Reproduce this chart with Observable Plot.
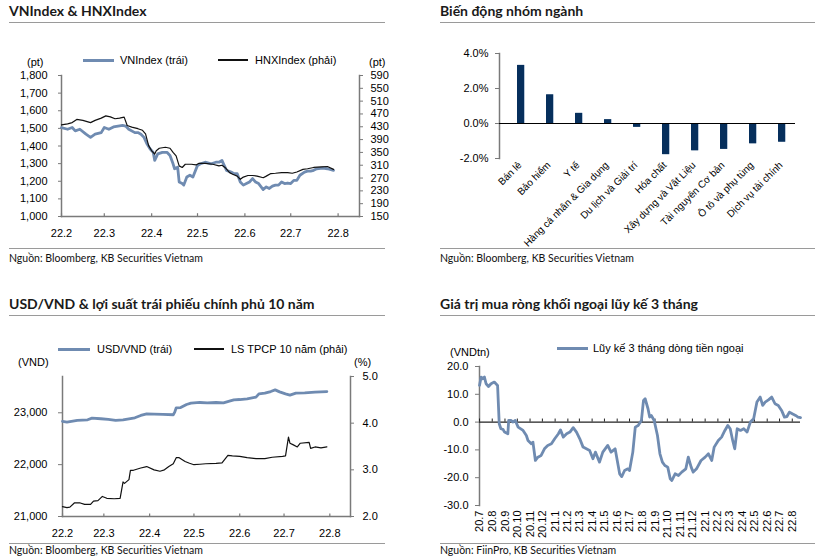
<!DOCTYPE html>
<html><head><meta charset="utf-8">
<script src="https://cdn.jsdelivr.net/npm/d3@7"></script>
<script src="https://cdn.jsdelivr.net/npm/@observablehq/plot@0.6"></script>
<style>
body{margin:0;background:#fff;}
#page{position:relative;width:825px;height:559px;overflow:hidden;font-family:"Liberation Sans",Arial,sans-serif;color:#000;background:#fff;}
.abs{position:absolute;}
.title{font-family:Lato,"Liberation Sans",sans-serif;font-weight:bold;font-size:14px;color:#1a1a1a;white-space:nowrap;line-height:1;}
.rule{height:0;border-top:1px solid #9a9a9a;}
.src{font-family:Lato,"Liberation Sans",sans-serif;font-size:10.5px;line-height:1;white-space:nowrap;color:#111;}
.lab{font-size:11px;line-height:1;white-space:nowrap;}
</style></head><body><div id="page"></div>
<script>
// ---------------- DATA ----------------
// Panel 1: VNIndex (left) & HNXIndex (right)
const vnDates = ["2022-02-01","2022-02-05","2022-02-08","2022-02-10","2022-02-13","2022-02-17","2022-02-20","2022-02-23","2022-02-27","2022-03-01","2022-03-04","2022-03-07","2022-03-10","2022-03-13","2022-03-15","2022-03-17","2022-03-21","2022-03-23","2022-03-25","2022-03-27","2022-03-29","2022-03-31","2022-04-02","2022-04-03","2022-04-05","2022-04-08","2022-04-11","2022-04-13","2022-04-15","2022-04-16","2022-04-18","2022-04-19","2022-04-21","2022-04-22","2022-04-24","2022-04-26","2022-04-28","2022-05-01","2022-05-03","2022-05-06","2022-05-10","2022-05-13","2022-05-15","2022-05-17","2022-05-18","2022-05-20","2022-05-23","2022-05-25","2022-05-27","2022-05-29","2022-05-31","2022-06-02","2022-06-04","2022-06-06","2022-06-08","2022-06-10","2022-06-13","2022-06-15","2022-06-17","2022-06-19","2022-06-21","2022-06-23","2022-06-25","2022-06-27","2022-06-29","2022-07-01","2022-07-03","2022-07-05","2022-07-07","2022-07-10","2022-07-12","2022-07-14","2022-07-16","2022-07-18","2022-07-22","2022-07-25","2022-07-29"];
const vnValues = [1504,1495,1505,1486,1495,1467,1449,1467,1476,1505,1495,1508,1513,1517,1513,1495,1476,1476,1467,1449,1411,1383,1364,1318,1355,1364,1364,1346,1299,1271,1280,1196,1187,1178,1224,1234,1224,1290,1299,1308,1299,1308,1308,1318,1299,1262,1252,1243,1243,1196,1178,1187,1196,1215,1196,1187,1153,1168,1159,1172,1178,1178,1196,1187,1190,1187,1205,1205,1234,1252,1257,1257,1262,1271,1274,1271,1262];
const hnxDates = ["2022-02-01","2022-02-05","2022-02-08","2022-02-11","2022-02-15","2022-02-20","2022-02-23","2022-02-27","2022-03-02","2022-03-05","2022-03-08","2022-03-11","2022-03-14","2022-03-16","2022-03-19","2022-03-23","2022-03-26","2022-03-28","2022-03-30","2022-04-01","2022-04-03","2022-04-04","2022-04-06","2022-04-10","2022-04-13","2022-04-15","2022-04-17","2022-04-19","2022-04-21","2022-04-23","2022-04-27","2022-04-30","2022-05-02","2022-05-06","2022-05-11","2022-05-15","2022-05-17","2022-05-19","2022-05-22","2022-05-24","2022-05-27","2022-05-29","2022-05-31","2022-06-03","2022-06-06","2022-06-09","2022-06-13","2022-06-15","2022-06-18","2022-06-21","2022-06-25","2022-06-29","2022-07-02","2022-07-05","2022-07-09","2022-07-12","2022-07-16","2022-07-21","2022-07-25","2022-07-29"];
const hnxValues = [436,439,443,453,450,443,450,457,464,461,455,457,460,434,429,424,419,408,371,355,345,355,363,366,363,350,339,308,303,313,313,311,316,316,313,308,310,303,287,282,276,266,273,278,278,276,271,276,284,285,287,287,285,289,297,299,303,305,306,297];
const p1XLabels = ["22.2","22.3","22.4","22.5","22.6","22.7","22.8"];
const vnTicks = [1000,1100,1200,1300,1400,1500,1600,1700,1800];
const hnxTicks = [150,190,230,270,310,350,390,430,470,510,550,590];

// Panel 2: sector changes
const sectors = ["Bán lẻ","Bảo hiểm","Y tế","Hàng cá nhân & Gia dụng","Du lịch và Giải trí","Hóa chất","Xây dựng và Vật Liệu","Tài nguyên Cơ bản","Ô tô và phụ tùng","Dịch vụ tài chính"];
const sectorChange = [3.32,1.64,0.58,0.22,-0.22,-1.78,-1.56,-1.48,-1.16,-1.07];
const sectorTicks = [-2,0,2,4];

// Panel 3: USD/VND (left) & 10Y gov bond yield (right)
const usdDates = ["2022-02-01","2022-02-04","2022-02-11","2022-02-18","2022-02-21","2022-02-27","2022-03-04","2022-03-09","2022-03-14","2022-03-18","2022-03-22","2022-03-26","2022-03-30","2022-04-04","2022-04-10","2022-04-17","2022-04-18","2022-04-19","2022-04-22","2022-04-26","2022-04-29","2022-05-05","2022-05-10","2022-05-16","2022-05-21","2022-05-25","2022-05-28","2022-06-01","2022-06-06","2022-06-12","2022-06-14","2022-06-18","2022-06-22","2022-06-25","2022-06-28","2022-07-02","2022-07-05","2022-07-09","2022-07-15","2022-07-22","2022-07-30"];
const usdValues = [22833,22820,22853,22865,22897,22885,22872,22853,22865,22885,22904,22949,22981,22975,22970,22962,23013,23096,23100,23160,23186,23199,23192,23199,23192,23224,23250,23256,23269,23301,23365,23378,23410,23442,23404,23365,23340,23378,23384,23397,23410];
const lsDates = ["2022-02-01","2022-02-04","2022-02-06","2022-02-09","2022-02-13","2022-02-16","2022-02-20","2022-02-22","2022-02-25","2022-02-28","2022-03-03","2022-03-08","2022-03-12","2022-03-14","2022-03-15","2022-03-18","2022-03-19","2022-03-21","2022-03-26","2022-03-30","2022-04-04","2022-04-08","2022-04-11","2022-04-14","2022-04-17","2022-04-19","2022-04-21","2022-04-25","2022-04-28","2022-05-01","2022-05-05","2022-05-09","2022-05-16","2022-05-20","2022-05-24","2022-05-27","2022-06-01","2022-06-06","2022-06-12","2022-06-18","2022-06-23","2022-06-30","2022-07-02","2022-07-04","2022-07-05","2022-07-07","2022-07-10","2022-07-12","2022-07-18","2022-07-19","2022-07-22","2022-07-26","2022-07-30"];
const lsValues = [2.21,2.19,2.2,2.29,2.29,2.26,2.26,2.33,2.34,2.43,2.39,2.38,2.39,2.74,2.71,2.79,2.99,2.99,3.04,3.07,3.0,2.97,3.0,3.07,3.13,3.26,3.26,3.18,3.14,3.11,3.12,3.13,3.14,3.15,3.31,3.3,3.29,3.26,3.24,3.24,3.27,3.29,3.3,3.7,3.57,3.54,3.49,3.57,3.59,3.46,3.49,3.47,3.49];
const p3XLabels = ["22.2","22.3","22.4","22.5","22.6","22.7","22.8"];
const usdTicks = [21000,22000,23000];
const lsTicks = [2,3,4,5];

// Panel 4: 3-month cumulative foreign net buying
const flowDates = ["2020-07-01","2020-07-05","2020-07-09","2020-07-13","2020-07-17","2020-07-23","2020-07-29","2020-08-06","2020-08-10","2020-08-14","2020-08-18","2020-08-22","2020-08-27","2020-08-31","2020-09-08","2020-09-10","2020-09-16","2020-09-20","2020-09-26","2020-10-03","2020-10-15","2020-10-23","2020-10-27","2020-11-04","2020-11-08","2020-11-14","2020-11-20","2020-11-28","2020-12-06","2020-12-14","2020-12-23","2020-12-31","2021-01-09","2021-01-14","2021-01-21","2021-01-29","2021-02-06","2021-02-14","2021-02-22","2021-03-02","2021-03-10","2021-03-18","2021-03-26","2021-04-03","2021-04-09","2021-04-19","2021-04-27","2021-05-09","2021-05-17","2021-05-27","2021-06-07","2021-06-12","2021-06-19","2021-06-27","2021-07-01","2021-07-09","2021-07-15","2021-07-22","2021-07-30","2021-08-04","2021-08-08","2021-08-15","2021-08-19","2021-08-23","2021-08-30","2021-09-07","2021-09-13","2021-09-19","2021-09-25","2021-10-02","2021-10-08","2021-10-12","2021-10-20","2021-10-28","2021-11-05","2021-11-15","2021-11-21","2021-11-28","2021-12-03","2021-12-11","2021-12-22","2022-01-01","2022-01-09","2022-01-17","2022-01-23","2022-02-02","2022-02-10","2022-02-18","2022-02-25","2022-03-03","2022-03-09","2022-03-14","2022-03-20","2022-03-28","2022-04-05","2022-04-13","2022-04-21","2022-04-29","2022-05-07","2022-05-15","2022-05-21","2022-05-27","2022-06-04","2022-06-12","2022-06-20","2022-06-28","2022-07-06","2022-07-13","2022-07-19","2022-07-25","2022-08-01","2022-08-09","2022-08-15","2022-08-21"];
const flowValues = [13.2,16.2,15.6,16.2,13.8,12.8,13.8,14.4,13.8,13.2,-0.6,-2.4,-2.6,-3.6,-4.2,0.6,0.6,0,0.6,-1.8,-3,-4.8,-6.6,-7.8,-7.2,-13.8,-12.6,-12,-9.6,-8.4,-7.8,-6,-4.2,-2.8,-5.4,-4.2,-3.6,-2,-3.6,-6,-9,-9.6,-10.2,-13.2,-10.8,-14.4,-10.8,-8.4,-10.8,-9.6,-18.6,-19.6,-17.4,-16.8,-17.4,-10.8,-1.8,-1.2,0.6,7.8,8.4,4.8,1.8,2.4,0.6,-4.8,-11.4,-14.4,-15.6,-16.2,-20.4,-21,-18.6,-19.2,-18,-16.8,-12.6,-16.2,-18,-16.8,-13.8,-12.6,-11.4,-13.8,-9,-6.6,-5.4,-3,-1.2,-2.4,-6.6,-9.6,-2.4,-3,-2.4,-3.6,0,1.2,7.2,9,6,7.2,8,9,6.6,6,4.2,1.8,2,3.6,3,2.4,1.8,1.6];
const p4XLabels = ["20.7","20.8","20.9","20.10","20.11","20.12","21.1","21.2","21.3","21.4","21.5","21.6","21.7","21.8","21.9","21.10","21.11","21.12","22.1","22.2","22.3","22.4","22.5","22.6","22.7","22.8"];
const flowTicks = [-30,-20,-10,0,10,20];

// ---------------- HELPERS ----------------
const parse = d3.utcParse("%Y-%m-%d");
const labelDate = s => { const [y, m] = s.split(".").map(Number); return new Date(Date.UTC(2000 + y, m - 1, 1)); };
const zip = (ds, vs) => ds.map((d, i) => ({date: parse(d), value: vs[i]}));
const BLUE = "#6f8bb1", AXIS = "#7a7a7a", NAVY = "#062f5c";
const FONT = "'Liberation Sans', Arial, sans-serif";
const baseStyle = {fontFamily: FONT, fontSize: "11px", background: "transparent", overflow: "visible", color: "#000"};
const page = document.getElementById("page");

function box(left, top, w, h) {
  const d = document.createElement("div");
  d.className = "abs";
  Object.assign(d.style, {left: left + "px", top: top + "px", width: w + "px", height: h + "px", overflow: "visible"});
  page.appendChild(d);
  return d;
}
function put(container, svg) { svg.style.position = "absolute"; svg.style.left = "0"; svg.style.top = "0"; container.appendChild(svg); }
function text(cls, left, top, s) {
  const d = document.createElement("div");
  d.className = "abs " + cls;
  d.style.left = left + "px"; d.style.top = top + "px";
  d.textContent = s;
  page.appendChild(d);
  return d;
}
function rule(x1, x2, y) { const d = document.createElement("div"); d.className = "abs rule"; Object.assign(d.style, {left: x1 + "px", top: y + "px", width: (x2 - x1) + "px"}); page.appendChild(d); }
function swatch(x1, x2, y, color, w) {
  const d = document.createElement("div"); d.className = "abs";
  Object.assign(d.style, {left: x1 + "px", top: (y - w / 2) + "px", width: (x2 - x1) + "px", height: w + "px", background: color});
  page.appendChild(d);
}

// ---------------- FRAME TEXT ----------------
text("title", 9, 4, "VNIndex & HNXIndex");
text("title", 440, 4, "Biến động nhóm ngành");
text("title", 9, 297, "USD/VND & lợi suất trái phiếu chính phủ 10 năm");
text("title", 440, 297, "Giá trị mua ròng khối ngoại lũy kế 3 tháng");
rule(9, 385, 22); rule(440, 815, 22); rule(9, 385, 315); rule(440, 815, 315);
rule(9, 385, 248); rule(440, 815, 248); rule(9, 385, 543); rule(440, 815, 543);
text("src", 9, 253, "Nguồn: Bloomberg, KB Securities Vietnam");
text("src", 440, 253, "Nguồn: Bloomberg, KB Securities Vietnam");
text("src", 9, 545, "Nguồn: Bloomberg, KB Securities Vietnam");
text("src", 440, 545, "Nguồn: FiinPro, KB Securities Vietnam");

// legends & unit labels
swatch(83, 114, 60, BLUE, 3); text("lab", 120, 55, "VNIndex (trái)");
swatch(218, 248, 60, "#111", 1.2); text("lab", 255, 55, "HNXIndex (phải)");
text("lab", 27, 57, "(pt)");
text("lab", 369, 57, "(pt)");
swatch(58, 90, 349, BLUE, 3); text("lab", 97, 344, "USD/VND (trái)");
swatch(194, 224, 349, "#111", 1.2); text("lab", 231, 344, "LS TPCP 10 năm (phải)");
text("lab", 18, 357, "(VND)"); text("lab", 354, 357, "(%)");
swatch(557, 588, 348, BLUE, 3); text("lab", 593, 343, "Lũy kế 3 tháng dòng tiền ngoại");
text("lab", 450, 347, "(VNDtn)");

// ---------------- PANEL 1 ----------------
{
  const c = box(0, 40, 375, 205);
  const tickDates = p1XLabels.map(labelDate);
  const lab = new Map(tickDates.map((d, i) => [+d, p1XLabels[i]]));
  const xDomain = [parse("2022-02-01"), parse("2022-08-15")];
  const dims = {width: 375, height: 205, marginLeft: 61, marginRight: 16, marginTop: 35, marginBottom: 29, style: baseStyle};
  put(c, Plot.plot({
    ...dims,
    x: {type: "utc", domain: xDomain},
    y: {domain: [vnTicks[0], vnTicks[vnTicks.length - 1]]},
    marks: [
      Plot.axisY({ticks: vnTicks, tickFormat: d3.format(","), tickSize: 3, tickPadding: 11, label: null, stroke: AXIS}),
      Plot.axisX({ticks: tickDates, tickFormat: d => lab.get(+d), tickSize: 0, tickPadding: 13, label: null}),
      Plot.ruleX(tickDates, {x: d => d, y1: 1000, y2: 1016, stroke: AXIS, strokeWidth: 1.2}),
      Plot.frame({anchor: "left", stroke: AXIS, strokeWidth: 1.5}),
      Plot.frame({anchor: "bottom", stroke: AXIS, strokeWidth: 1.5}),
      Plot.line(zip(vnDates, vnValues), {x: "date", y: "value", stroke: BLUE, strokeWidth: 2.8})
    ]
  }));
  put(c, Plot.plot({
    ...dims,
    x: {type: "utc", domain: xDomain, axis: null},
    y: {domain: [hnxTicks[0], hnxTicks[hnxTicks.length - 1]]},
    marks: [
      Plot.axisY({anchor: "right", ticks: hnxTicks, tickSize: 3, tickPadding: 8, label: null, stroke: AXIS}),
      Plot.frame({anchor: "right", stroke: AXIS, strokeWidth: 1.5}),
      Plot.line(zip(hnxDates, hnxValues), {x: "date", y: "value", stroke: "#111", strokeWidth: 1.2})
    ]
  }));
}

// ---------------- PANEL 2 ----------------
{
  const c = box(410, 30, 415, 215);
  const data = sectors.map((s, i) => ({sector: s, value: sectorChange[i]}));
  put(c, Plot.plot({
    width: 415, height: 215, marginLeft: 89, marginRight: 30, marginTop: 23, marginBottom: 87,
    style: baseStyle,
    x: {domain: sectors, paddingInner: 0.76, paddingOuter: 0.38},
    y: {domain: [sectorTicks[0], sectorTicks[sectorTicks.length - 1]]},
    marks: [
      Plot.axisY({ticks: sectorTicks, tickFormat: d => d.toFixed(1) + "%", tickSize: 4, tickPadding: 7, label: null, stroke: AXIS, fontSize: 11}),
      Plot.axisX({tickRotate: -45, tickSize: 0, tickPadding: 5, label: null, fontSize: 10, dx: 3}),
      Plot.frame({anchor: "left", stroke: AXIS, strokeWidth: 1.5}),
      Plot.barY(data, {x: "sector", y: "value", fill: "#b7c7d9", dx: 5}),
      Plot.barY(data, {x: "sector", y: "value", fill: NAVY, dx: 4}),
      Plot.ruleY([0], {stroke: "#000", strokeWidth: 1.2})
    ]
  }));
}

// ---------------- PANEL 3 ----------------
{
  const c = box(0, 360, 410, 180);
  const tickDates = p3XLabels.map(labelDate);
  const lab = new Map(tickDates.map((d, i) => [+d, p3XLabels[i]]));
  const xDomain = [parse("2022-02-01"), parse("2022-08-15")];
  const dims = {width: 410, height: 180, marginLeft: 62, marginRight: 60, marginTop: 16, marginBottom: 24, style: baseStyle};
  put(c, Plot.plot({
    ...dims,
    x: {type: "utc", domain: xDomain},
    y: {domain: [21000, 23700]},
    marks: [
      Plot.axisY({ticks: usdTicks, tickFormat: d3.format(","), tickSize: 4, tickPadding: 11, label: null, stroke: AXIS}),
      Plot.axisX({ticks: tickDates, tickFormat: d => lab.get(+d), tickSize: 0, tickPadding: 13, label: null}),
      Plot.ruleX(tickDates, {x: d => d, y1: 21000, y2: 21050, stroke: AXIS, strokeWidth: 1.2}),
      Plot.frame({anchor: "left", stroke: AXIS, strokeWidth: 1.5}),
      Plot.frame({anchor: "bottom", stroke: AXIS, strokeWidth: 1.5}),
      Plot.line(zip(usdDates, usdValues), {x: "date", y: "value", stroke: BLUE, strokeWidth: 2.8})
    ]
  }));
  put(c, Plot.plot({
    ...dims,
    x: {type: "utc", domain: xDomain, axis: null},
    y: {domain: [lsTicks[0], lsTicks[lsTicks.length - 1]]},
    marks: [
      Plot.axisY({anchor: "right", ticks: lsTicks, tickFormat: d => d.toFixed(1), tickSize: 3, tickPadding: 9, label: null, stroke: AXIS}),
      Plot.frame({anchor: "right", stroke: AXIS, strokeWidth: 1.5}),
      Plot.line(zip(lsDates, lsValues), {x: "date", y: "value", stroke: "#111", strokeWidth: 1.2})
    ]
  }));
}

// ---------------- PANEL 4 ----------------
{
  const c = box(410, 355, 415, 190);
  const tickDates = p4XLabels.map(labelDate);
  const lab = new Map(tickDates.map((d, i) => [+d, p4XLabels[i]]));
  put(c, Plot.plot({
    width: 415, height: 190, marginLeft: 69, marginRight: 25, marginTop: 11, marginBottom: 40,
    style: baseStyle,
    x: {type: "utc", domain: [parse("2020-07-01"), parse("2022-08-21")]},
    y: {domain: [flowTicks[0], flowTicks[flowTicks.length - 1]]},
    marks: [
      Plot.axisY({ticks: flowTicks, tickFormat: d => d.toFixed(1), tickSize: 4, tickPadding: 7, label: null, stroke: AXIS}),
      Plot.axisX({ticks: tickDates, tickFormat: d => lab.get(+d), tickRotate: -90, tickSize: 0, tickPadding: 5, label: null}),
      Plot.frame({anchor: "left", stroke: AXIS, strokeWidth: 1.5}),
      Plot.ruleY([0], {stroke: "#222", strokeWidth: 1.2}),
      Plot.ruleX(tickDates, {x: d => d, y1: 0, y2: 1.1, stroke: "#222", strokeWidth: 1}),
      Plot.line(zip(flowDates, flowValues), {x: "date", y: "value", stroke: BLUE, strokeWidth: 2.8})
    ]
  }));
}
</script></body></html>
